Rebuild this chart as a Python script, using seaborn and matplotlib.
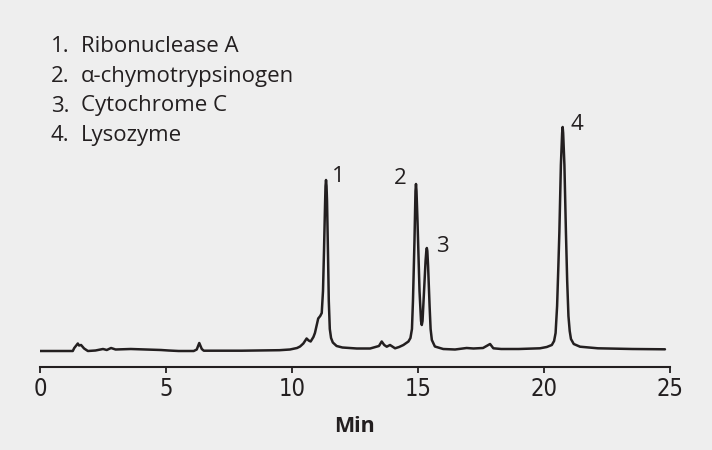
import matplotlib
matplotlib.use("Agg")
from matplotlib import pyplot as plt
import seaborn as sns
import pandas as pd

# chromatogram trace (retention time in min, detector signal)
time_min = [
    0.00, 1.30, 1.36, 1.50, 1.55, 1.63, 1.75, 1.90, 2.20, 2.50, 2.65, 2.82, 3.00,
    3.60, 4.20, 4.80, 5.10, 5.50, 6.10, 6.22, 6.32, 6.42, 6.50, 8.00, 9.50, 9.92,
    10.20, 10.32, 10.45, 10.58, 10.66, 10.74, 10.85, 10.91, 11.00, 11.04, 11.12,
    11.18, 11.23, 11.27, 11.31, 11.33, 11.35, 11.37, 11.39, 11.43, 11.46, 11.50,
    11.55, 11.62, 11.77, 12.00, 12.57, 13.10, 13.45, 13.56, 13.66, 13.76, 13.89,
    14.09, 14.25, 14.42, 14.62, 14.70, 14.76, 14.80, 14.86, 14.90, 14.92, 14.94,
    14.98, 15.06, 15.12, 15.15, 15.18, 15.24, 15.30, 15.33, 15.35, 15.37, 15.40,
    15.46, 15.50, 15.55, 15.67, 16.00, 16.47, 16.93, 17.20, 17.58, 17.86, 17.99,
    18.30, 19.00, 19.84, 20.11, 20.31, 20.40, 20.46, 20.52, 20.57, 20.61, 20.67,
    20.72, 20.74, 20.76, 20.81, 20.87, 20.92, 20.97, 21.02, 21.07, 21.18, 21.43,
    22.14, 23.50, 24.80,
]
signal = [
    0.0, 0.0, 3.0, 7.5, 5.5, 6.0, 2.5, 0.0, 0.5, 2.0, 1.0, 3.0, 1.5,
    2.0, 1.5, 1.0, 0.5, 0.0, 0.0, 1.5, 8.0, 2.0, 0.3, 0.3, 0.8, 1.5,
    3.0, 4.5, 7.5, 12.5, 10.5, 9.5, 14.0, 18.0, 28.0, 32.5, 35.0,
    38.0, 60.0, 100.0, 145.0, 165.0, 171.0, 165.0, 150.0, 95.0, 50.0, 22.0,
    13.0, 8.5, 5.0, 3.5, 2.5, 2.5, 5.0, 9.5, 6.0, 4.3, 6.0,
    2.7, 4.0, 6.0, 9.5, 13.0, 22.0, 50.0, 110.0, 160.0, 167.0, 160.0,
    130.0, 60.0, 30.0, 26.0, 30.0, 60.0, 90.0, 100.0, 103.0, 100.0, 85.0,
    45.0, 22.0, 11.0, 4.5, 2.0, 1.5, 3.0, 2.5, 3.0, 7.0, 2.7,
    2.0, 2.0, 2.7, 4.0, 6.0, 10.0, 18.0, 45.0, 85.0, 119.0, 186.0,
    218.0, 224.0, 218.0, 186.0, 119.0, 70.0, 35.0, 20.0, 12.0, 7.0, 4.3,
    2.7, 2.0, 1.7,
]

# peak numbers and where their labels sit
peak_labels = ["1", "2", "3", "4"]
peak_label_t = [11.85, 14.29, 15.95, 21.31]
peak_label_y = [174, 172, 105, 226]

compounds = ["Ribonuclease A", "α-chymotrypsinogen", "Cytochrome C", "Lysozyme"]

x_ticks = [0, 5, 10, 15, 20, 25]

bg = "#eeeeee"
ink = "#231f20"

sns.set_theme(style="white")
plt.rcParams["font.family"] = ["Open Sans", "DejaVu Sans"]

df = pd.DataFrame({"Min": time_min, "signal": signal})

fig = plt.figure(figsize=(7.12, 4.5), dpi=100, facecolor=bg)
ax = fig.add_axes([40 / 712, 83 / 450, 630 / 712, 367 / 450])
ax.set_facecolor(bg)

sns.lineplot(data=df, x="Min", y="signal", ax=ax, color=ink, linewidth=1.8,
             estimator=None, sort=False)

ax.set_xlim(0, 25)
ax.set_ylim(-16, 351)
ax.set_yticks([])
ax.set_ylabel("")
ax.set_xticks(x_ticks)
ax.set_xticklabels([str(t) for t in x_ticks], family="DejaVu Sans",
                   fontstretch="condensed", fontsize=17)
ax.tick_params(axis="x", direction="out", length=4, width=1.3, color=ink,
               pad=3, labelcolor=ink, bottom=True)
for side in ["top", "left", "right"]:
    ax.spines[side].set_visible(False)
ax.spines["bottom"].set_color(ink)
ax.spines["bottom"].set_linewidth(1.5)
ax.set_xlabel("Min", fontsize=15.5, fontweight="bold", color=ink, labelpad=11)

for lab, tx, ty in zip(peak_labels, peak_label_t, peak_label_y):
    ax.text(tx, ty, lab, ha="center", va="center", fontsize=16, color=ink)

for i, name in enumerate(compounds):
    y = 1 - (47 + 29.5 * i) / 450
    fig.text(51 / 712, y, f"{i + 1}.", ha="left", va="center", fontsize=16, color=ink)
    fig.text(81 / 712, y, name, ha="left", va="center", fontsize=16, color=ink)

fig.savefig("out.png", dpi=100, facecolor=bg)
